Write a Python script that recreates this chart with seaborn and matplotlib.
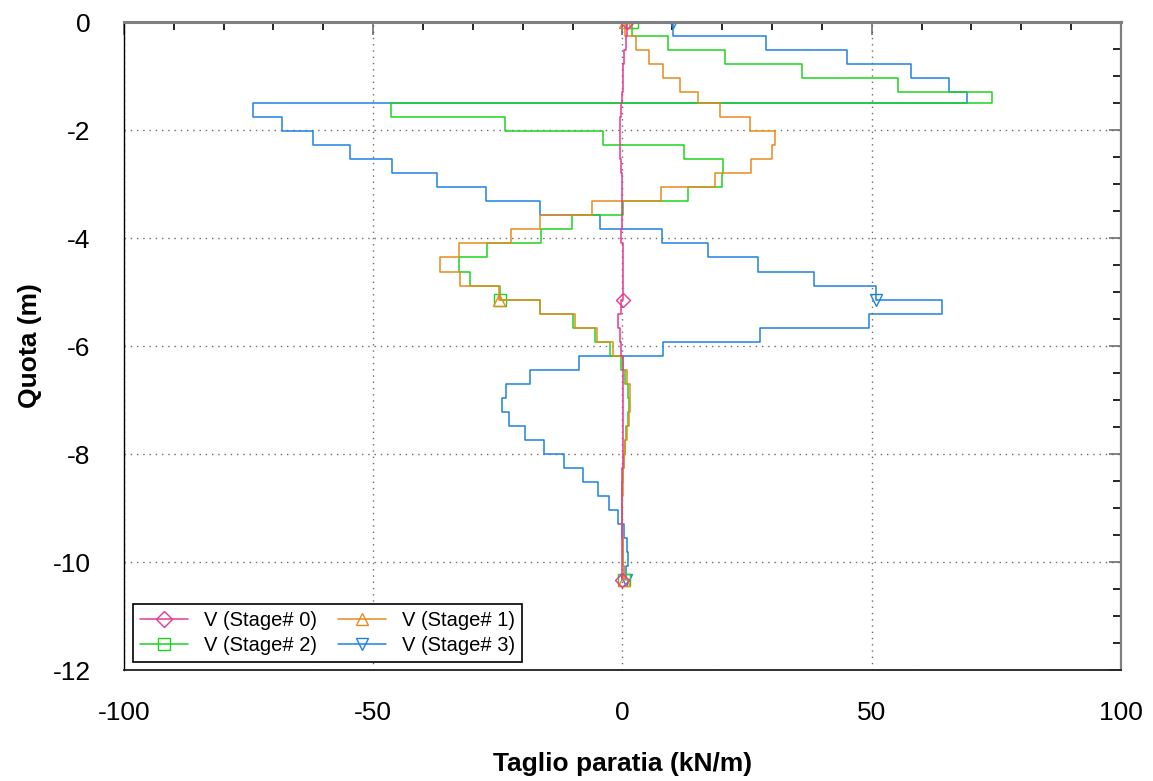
import numpy as np
import matplotlib
matplotlib.use("Agg")
import matplotlib.pyplot as plt
from matplotlib.lines import Line2D
from matplotlib.ticker import MultipleLocator
import seaborn as sns

# ---------------------------
# Data: node depths (m) and shear per element (kN/m)
# ---------------------------
quota = [0.00, -0.26, -0.52, -0.78, -1.04, -1.30, -1.50, -1.76, -2.02, -2.28,
         -2.54, -2.80, -3.06, -3.32, -3.58, -3.84, -4.10, -4.36, -4.62, -4.88,
         -5.14, -5.40, -5.66, -5.92, -6.18, -6.44, -6.70, -6.96, -7.22, -7.48,
         -7.74, -8.00, -8.26, -8.52, -8.78, -9.04, -9.30, -9.56, -9.82, -10.08,
         -10.34]

v_stage0 = [1.0, 0.7, 0.4, 0.2, 0.1, -0.1, -0.2, -0.5, -0.5, -0.5,
            -0.3, -0.1, -0.1, -0.1, -0.1, -0.3, 0.1, 0.2, 0.2, 0.2,
            -0.3, -0.9, -0.5, -0.2, 0.1, 0.1, 0.1, 0.1, 0.1, 0.1,
            0.1, 0.1, 0.0, 0.0, 0.0, 0.0, 0.0, 0.0, 0.0, 0.0]

v_stage1 = [0.6, 2.7, 5.4, 8.2, 11.5, 15.1, 19.5, 25.6, 30.6, 30.0,
            25.8, 18.5, 7.7, -6.2, -16.5, -22.4, -32.8, -36.5, -32.5, -24.8,
            -16.6, -9.6, -5.1, -1.9, 0.2, 1.0, 1.5, 1.5, 1.3, 0.9,
            0.6, 0.4, 0.2, 0.1, 0.0, 0.0, 0.0, 0.1, 0.2, 0.3]

v_stage2 = [2.0, 9.2, 20.5, 36.0, 55.2, 74.1, -46.4, -23.6, -3.9, 12.4,
            20.2, 19.9, 13.2, 0.1, -10.2, -16.4, -27.1, -32.7, -30.6, -24.5,
            -16.6, -10.0, -5.5, -2.4, -0.3, 0.6, 1.2, 1.3, 1.1, 0.8,
            0.5, 0.3, 0.1, 0.0, 0.0, 0.0, 0.0, 0.1, 0.2, 0.4]

v_stage3 = [10.2, 28.7, 45.1, 57.8, 65.5, 69.1, -74.2, -68.3, -62.0, -54.6,
            -46.3, -37.2, -27.3, -16.5, -4.6, 7.9, 17.1, 27.1, 38.5, 50.8,
            64.1, 49.4, 27.5, 8.1, -8.7, -18.5, -23.3, -24.1, -22.8, -19.6,
            -15.8, -11.8, -8.0, -5.0, -2.6, -0.9, 0.4, 1.0, 1.1, 0.8]

labels = ["V (Stage# 0)", "V (Stage# 1)", "V (Stage# 2)", "V (Stage# 3)"]
colors = ["#E8388F", "#E88A1E", "#1ED41E", "#1E82E0"]
markers = ["D", "^", "s", "v"]
series = [v_stage0, v_stage1, v_stage2, v_stage3]

# ---------------------------
# Style
# ---------------------------
sns.set_style("white")
plt.rcParams['font.family'] = ['Liberation Sans', 'DejaVu Sans']
plt.rcParams['axes.unicode_minus'] = False
plt.rcParams['text.color'] = 'black'
plt.rcParams['axes.labelcolor'] = 'black'
plt.rcParams['xtick.color'] = 'black'
plt.rcParams['ytick.color'] = 'black'

fig = plt.figure(figsize=(11.53, 7.81), dpi=100)
ax = fig.add_axes([0.1075, 0.1421, 0.8647, 0.8297])

z = np.array(quota)
z_pts = np.column_stack([z[:-1], z[1:]]).ravel()

# draw stage 3 first so stage 0 ends up on top
for i in [3, 2, 1, 0]:
    v_pts = np.repeat(series[i], 2)
    n = len(v_pts)
    sns.lineplot(x=v_pts, y=z_pts, sort=False, estimator=None, ax=ax,
                 color=colors[i], lw=1.1, marker=markers[i],
                 markevery=[0, n // 2 - 1, n - 1], markersize=8 if i != 0 else 7,
                 markerfacecolor="none", markeredgecolor=colors[i],
                 markeredgewidth=1.0)

ax.set_xlim(-100, 100)
ax.set_ylim(-12, 0)

ax.xaxis.set_major_locator(MultipleLocator(50))
ax.xaxis.set_minor_locator(MultipleLocator(10))
ax.yaxis.set_major_locator(MultipleLocator(2))
ax.yaxis.set_minor_locator(MultipleLocator(0.5))

ax.grid(True, which="major", color="#6a6a6a", linestyle=(0, (1, 3.5)), lw=1.0)

ax.tick_params(which="major", labelsize=19, top=False, right=False)
ax.tick_params(axis="x", which="major", direction="out", length=11, width=1.2,
               colors="black", pad=11)
ax.tick_params(axis="y", which="major", direction="inout", length=22, width=2.0,
               color="#808080", labelcolor="black", pad=13)
ax.tick_params(which="minor", direction="inout", length=11, width=1.0,
               top=False, right=False)

ax.spines["left"].set_color("black")
ax.spines["left"].set_linewidth(1.0)
ax.spines["bottom"].set_color("#202020")
ax.spines["bottom"].set_linewidth(1.3)
ax.spines["top"].set_color("#7f7f7f")
ax.spines["top"].set_linewidth(2.2)
ax.spines["right"].set_color("#7f7f7f")
ax.spines["right"].set_linewidth(1.6)

# inward ticks on top and right
sec_x = ax.secondary_xaxis("top")
sec_x.xaxis.set_major_locator(MultipleLocator(50))
sec_x.xaxis.set_minor_locator(MultipleLocator(10))
sec_x.tick_params(which="both", direction="in", labeltop=False, width=1.2)
sec_x.tick_params(which="major", length=9, color="#707070")
sec_x.tick_params(which="minor", length=6)
sec_x.spines["top"].set_visible(False)

sec_y = ax.secondary_yaxis("right")
sec_y.yaxis.set_major_locator(MultipleLocator(2))
sec_y.yaxis.set_minor_locator(MultipleLocator(0.5))
sec_y.tick_params(which="both", direction="in", labelright=False, width=1.2)
sec_y.tick_params(which="major", length=9, color="#707070")
sec_y.tick_params(which="minor", length=6)
sec_y.spines["right"].set_visible(False)

ax.set_xlabel("Taglio paratia (kN/m)", fontsize=19, fontweight="bold")
ax.set_ylabel("Quota (m)", fontsize=19, fontweight="bold")
ax.xaxis.set_label_coords(0.5, -0.127)
ax.yaxis.set_label_coords(-0.082, 0.5)

# legend: proxies with a single marker each, rows 0/1 and 2/3
proxies = [Line2D([], [], color=colors[i], lw=1.1, marker=markers[i],
                  markersize=9 if i != 0 else 8, markerfacecolor="none",
                  markeredgecolor=colors[i], markeredgewidth=1.0)
           for i in range(4)]
order = [0, 2, 1, 3]
leg = ax.legend([proxies[i] for i in order], [labels[i] for i in order],
                loc="lower left", bbox_to_anchor=(0.009, 0.012), ncol=2,
                fontsize=14.5, frameon=True, fancybox=False, framealpha=1,
                edgecolor="black", handlelength=2.4, handletextpad=0.8,
                columnspacing=1.0, borderpad=0.35, labelspacing=0.3,
                borderaxespad=0, numpoints=1)
leg.get_frame().set_linewidth(1.2)

plt.savefig("out.png", dpi=100)
plt.close()
